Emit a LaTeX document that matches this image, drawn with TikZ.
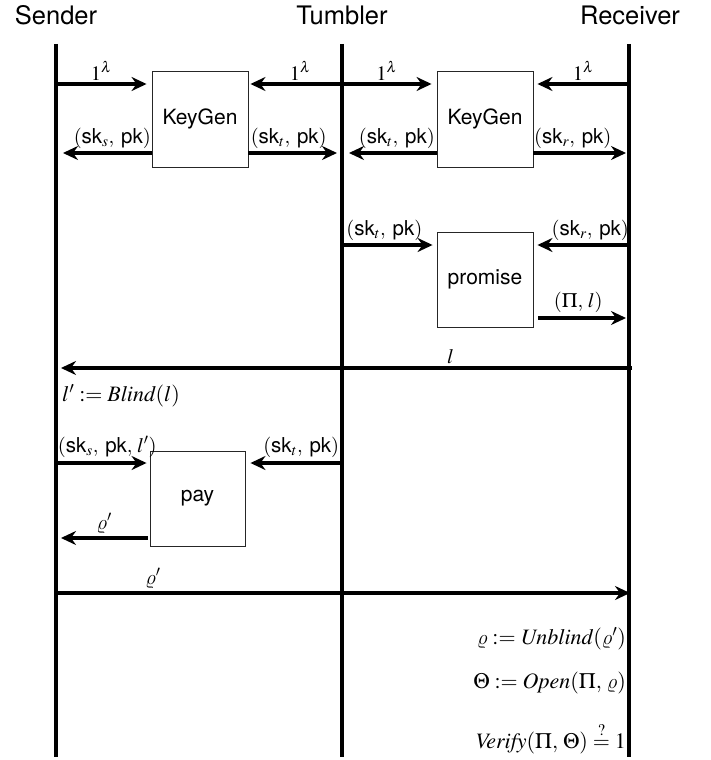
\documentclass[tikz,border=0pt]{standalone}
\usepackage{amsmath}
\usepackage{mathptmx}
\usepackage[no-math]{fontspec}
\setmainfont{TeX Gyre Heros}
\setsansfont{TeX Gyre Heros}
\usetikzlibrary{arrows.meta,calc}
% curly rho taken from the Computer Modern math italic font
\DeclareSymbolFont{cmletters}{OML}{cmm}{m}{it}
\DeclareMathSymbol{\curlyrho}{\mathord}{cmletters}{"25}
\newcommand{\keypair}[1]{(\text{sk}_{#1},\;\text{pk})}

\begin{document}
\begin{tikzpicture}[x=1pt,y=-1pt,
  life/.style={line width=3.6pt},
  msg/.style={line width=3.4pt,-{Stealth[length=15pt,width=14pt,inset=5pt]}},
  proc/.style={draw=black!85,line width=0.9pt,minimum width=96pt,minimum height=96pt,
    inner sep=0pt,font=\fontsize{21}{25}\selectfont},
  head/.style={font=\fontsize{25.5}{30}\selectfont,anchor=base,inner sep=0pt},
  lab/.style={font=\fontsize{20.5}{24}\selectfont,inner sep=1pt},
  comp/.style={font=\fontsize{22}{26}\selectfont,inner sep=0pt}]

\useasboundingbox (0,0) rectangle (711,760);

% parties and their lifelines
\node[head] (hs) at (56,25) {Sender};
\node[head] (ht) at (342,25) {Tumbler};
\node[head] (hr) at (630,25) {Receiver};
\coordinate (s0) at (56,44);  \coordinate (s1) at (56,757);
\coordinate (t0) at (342,44); \coordinate (t1) at (342,757);
\coordinate (r0) at (629,44); \coordinate (r1) at (629,757);
\draw[life] (s0) -- (s1);
\draw[life] (t0) -- (t1);
\draw[life] (r0) -- (r1);

% message rows on the lifelines
\coordinate (sA) at (56,84);  \coordinate (tA) at (342,84);  \coordinate (rA) at (629,84);
\coordinate (sB) at (56,153); \coordinate (tB) at (342,153); \coordinate (rB) at (629,153);
\coordinate (tC) at (342,245); \coordinate (rC) at (629,245);
\coordinate (rD) at (629,318);
\coordinate (sE) at (56,368); \coordinate (rE) at (632,368);
\coordinate (sF) at (56,463); \coordinate (tF) at (342,463);
\coordinate (sG) at (56,538);
\coordinate (sH) at (54,593); \coordinate (rH) at (629,593);

% algorithm boxes
\node[proc] (kg1) at (200,119) {KeyGen};
\node[proc] (kg2) at (485,119) {KeyGen};
\node[proc,minimum height=95pt] (prm) at (485,279.5) {promise};
\node[proc,minimum width=95pt,minimum height=95pt] (pay) at (197.5,498.5) {pay};

% key generation, sender/tumbler
\draw[msg] (sA) -- ([xshift=-5pt]kg1.west |- sA)
  node[lab,above=1pt,midway] (l1) {$1^\lambda$};
\draw[msg] (tA) -- ([xshift=2pt]kg1.east |- tA)
  node[lab,above=1pt,midway,xshift=4pt] (l2) {$1^\lambda$};
\draw[msg] (kg1.west |- sB) -- ([xshift=7pt]sB)
  node[lab,above=2pt,midway,xshift=5pt] (l3) {$\keypair{s}$};
\draw[msg] (kg1.east |- tB) -- ([xshift=-5pt]tB)
  node[lab,above=2pt,midway,xshift=-4pt] (l4) {$\keypair{t}$};

% key generation, tumbler/receiver
\draw[msg] (tA) -- ([xshift=-5pt]kg2.west |- tA)
  node[lab,above=1pt,midway] (l5) {$1^\lambda$};
\draw[msg] (rA) -- ([xshift=4pt]kg2.east |- rA)
  node[lab,above=1pt,midway] (l6) {$1^\lambda$};
\draw[msg] (kg2.west |- tB) -- ([xshift=7pt]tB)
  node[lab,above=2pt,midway,xshift=4pt] (l7) {$\keypair{t}$};
\draw[msg] (kg2.east |- rB) -- ([xshift=-3pt]rB)
  node[lab,above=2pt,midway,xshift=-7pt] (l8) {$\keypair{r}$};

% promise
\draw[msg] (tC) -- ([xshift=-4pt]prm.west |- tC)
  node[lab,above=2pt,midway,xshift=-3pt] (l9) {$\keypair{t}$};
\draw[msg] (rC) -- ([xshift=4pt]prm.east |- rC)
  node[lab,above=2pt,midway,xshift=7pt] (l10) {$\keypair{r}$};
\draw[msg] ([xshift=5pt]prm.east |- rD) -- ([xshift=-3pt]rD)
  node[lab,above=3pt,midway,xshift=-4pt] (l11) {$(\Pi,\,l)$};
\draw[msg] (rE) -- ([xshift=5pt]sE)
  node[lab,above=2pt,pos=0.318] (l12) {$l$};

\node[comp,anchor=base west] (blind) at (62,401) {$l' \mathrel{:=} \mathit{Blind}(l)$};

% payment
\draw[msg] (sF) -- ([xshift=-3pt]pay.west |- sF)
  node[lab,above=3pt,midway,xshift=6pt] (l13) {$(\text{sk}_s,\;\text{pk},\,l')$};
\draw[msg] (tF) -- ([xshift=5pt]pay.east |- tF)
  node[lab,above=3pt,midway,xshift=5pt] (l14) {$\keypair{t}$};
\draw[msg] ([xshift=-2pt]pay.west |- sG) -- ([xshift=5pt]sG)
  node[lab,above=2pt,midway] (l15) {$\curlyrho'$};
\draw[msg] (sH) -- ([xshift=1pt]rH)
  node[lab,above=2pt,pos=0.172] (l16) {$\curlyrho'$};

% receiver's final computations
\node[comp,anchor=base east] (unb) at (626,644) {$\curlyrho \mathrel{:=} \mathit{Unblind}(\curlyrho')$};
\node[comp,anchor=base east] (opn) at (626,688) {$\Theta \mathrel{:=} \mathit{Open}(\Pi,\,\curlyrho)$};
\node[comp,anchor=base east] (ver) at (626,748) {$\mathit{Verify}(\Pi,\,\Theta) \stackrel{?}{=} 1$};
\end{tikzpicture}
\end{document}
